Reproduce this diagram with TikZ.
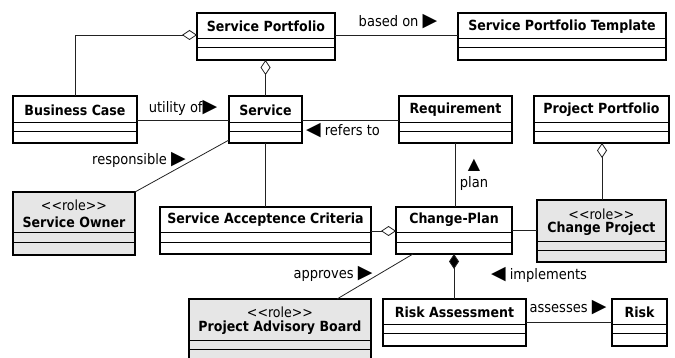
\documentclass[tikz,border=0pt]{standalone}
\usepackage{fontspec}
\setmainfont{DejaVu Sans Condensed}
\newfontfamily\symfont{DejaVu Sans}
\usetikzlibrary{arrows.meta}

\definecolor{rolegray}{HTML}{E6E6E6}
\definecolor{linkgray}{HTML}{222222}

% direction markers next to association names
\newcommand\tri[1]{{\symfont\fontsize{19}{19}\selectfont #1}}
\newcommand\uptri[1]{{\symfont\fontsize{16}{16}\selectfont #1}}

\tikzset{
  classbox/.style={draw=black, line width=1.6pt, fill=white, inner sep=0pt, outer sep=0pt},
  rolebox/.style={fill=rolegray},
  compline/.style={draw=black, line width=0.9pt},
  title/.style={font=\fontsize{14}{15}\selectfont\bfseries, inner sep=0pt},
  stereo/.style={font=\fontsize{14}{15}\selectfont, inner sep=0pt},
  assoc/.style={draw=linkgray, line width=0.8pt},
  aggr/.style={assoc, {Diamond[fill=white, length=15pt, width=10pt, line width=0.8pt]}-},
  compo/.style={assoc, {Diamond[fill=black, length=15pt, width=10pt, line width=0.8pt]}-},
  rolename/.style={font=\fontsize{14.5}{15}\selectfont, inner sep=0pt}
}

% \umlclass{name}{left}{top}{width}{height}{first divider}{second divider}{extra style}
\newcommand\umlclass[8]{%
  \node[classbox,#8,minimum width=#4pt,minimum height=#5pt,anchor=north west] (#1) at (#2pt,-#3pt) {};
  \draw[compline] ([yshift=-#6pt]#1.north west) -- ([yshift=-#6pt]#1.north east);
  \draw[compline] ([yshift=-#7pt]#1.north west) -- ([yshift=-#7pt]#1.north east);
}

\begin{document}
\begin{tikzpicture}[x=1pt,y=1pt]
\clip (0,0) rectangle (675,-358);
\useasboundingbox (0,0) rectangle (675,-358);

% classes
\umlclass{sp}{197}{13}{138}{47}{25}{34}{}
\umlclass{spt}{458}{13}{208}{47}{25}{34}{}
\umlclass{bc}{13}{96}{124}{47}{26}{35}{}
\umlclass{svc}{229}{96}{73}{47}{26}{35}{}
\umlclass{req}{399}{96}{113}{47}{26}{35}{}
\umlclass{pp}{534}{96}{135}{47}{26}{35}{}
\umlclass{so}{13}{192}{122}{63}{40}{50}{rolebox}
\umlclass{sac}{160}{207}{211}{47}{25}{35}{}
\umlclass{cp}{396}{207}{116}{47}{25}{35}{}
\umlclass{cproj}{537}{200}{129}{62}{41}{50}{rolebox}
\umlclass{pab}{189}{299}{182}{66}{41}{50}{rolebox}
\umlclass{ra}{383}{299}{143}{47}{25}{34}{}
\umlclass{risk}{612}{299}{55}{47}{25}{34}{}

% class names
\node[title] (spT)   at ([yshift=-13.5pt]sp.north)   {Service Portfolio};
\node[title] (sptT)  at ([yshift=-13.5pt]spt.north)  {Service Portfolio Template};
\node[title] (bcT)   at ([yshift=-14pt]bc.north)   {Business Case};
\node[title] (svcT)  at ([yshift=-14pt]svc.north)  {Service};
\node[title] (reqT)  at ([yshift=-14pt]req.north)  {Requirement};
\node[title] (ppT)   at ([yshift=-14pt]pp.north)   {Project Portfolio};
\node[stereo] (soS)  at ([yshift=-13pt]so.north)   {<{}<role>{}>};
\node[title] (soT)   at ([yshift=-30pt]so.north)   {Service Owner};
\node[title] (sacT)  at ([yshift=-13pt]sac.north)  {Service Acceptence Criteria};
\node[title] (cpT)   at ([yshift=-13pt]cp.north)   {Change-Plan};
\node[stereo] (cprS) at ([yshift=-14pt]cproj.north) {<{}<role>{}>};
\node[title] (cprT)  at ([yshift=-29pt]cproj.north) {Change Project};
\node[stereo] (pabS) at ([yshift=-13pt]pab.north)  {<{}<role>{}>};
\node[title] (pabT)  at ([yshift=-29pt]pab.north)  {Project Advisory Board};
\node[title] (raT)   at ([yshift=-13pt]ra.north)   {Risk Assessment};
\node[title] (riskT) at ([yshift=-13pt]risk.north) {Risk};

% connectors
\draw[aggr] (sp.west |- 0,-35) -| (bc.north);
\draw[assoc] (sp.east |- 0,-35) -- (spt.west |- 0,-35);
\draw[aggr] (sp.south -| svc.north) -- (svc.north);
\draw[assoc] (bc.east |- 0,-120) -- (svc.west |- 0,-120);
\draw[assoc] (svc.east |- 0,-120) -- (req.west |- 0,-120);
\draw[assoc] ([yshift=3pt]svc.south west) -- (so.north east);
\draw[assoc] (svc.south) -- (sac.north -| svc.south);
\draw[aggr] (cp.west |- 0,-231) -- (sac.east |- 0,-231);
\draw[assoc] (req.south -| 455,0) -- (cp.north -| 455,0);
\draw[aggr] (pp.south -| 602,0) -- (cproj.north -| 602,0);
\draw[assoc] (cp.east |- 0,-230) -- (cproj.west |- 0,-230);
\draw[assoc] ([xshift=17pt]cp.south west) -- ([xshift=-34pt]pab.north east);
\draw[compo] (cp.south -| 454,0) -- (ra.north -| 454,0);
\draw[assoc] (ra.east |- 0,-322) -- (risk.west |- 0,-322);

% association names
\node[rolename] (lBased)  at (398,-22)  {based on \tri{▶}};
\node[rolename] (lUtil)   at (183,-108) {utility of\tri{▶}};
\node[rolename] (lRefers) at (343,-131) {\tri{◀} refers to};
\node[rolename] (lResp)   at (139,-160) {responsible \tri{▶}};
\node[rolename] (lTri)    at (474,-165) {\uptri{▲}};
\node[rolename] (lPlan)   at (474,-184) {plan};
\node[rolename] (lAppr)   at (333,-274) {approves \tri{▶}};
\node[rolename] (lImpl)   at (539,-275) {\tri{◀} implements};
\node[rolename] (lAss)    at (568,-308) {assesses \tri{▶}};
\end{tikzpicture}
\end{document}
